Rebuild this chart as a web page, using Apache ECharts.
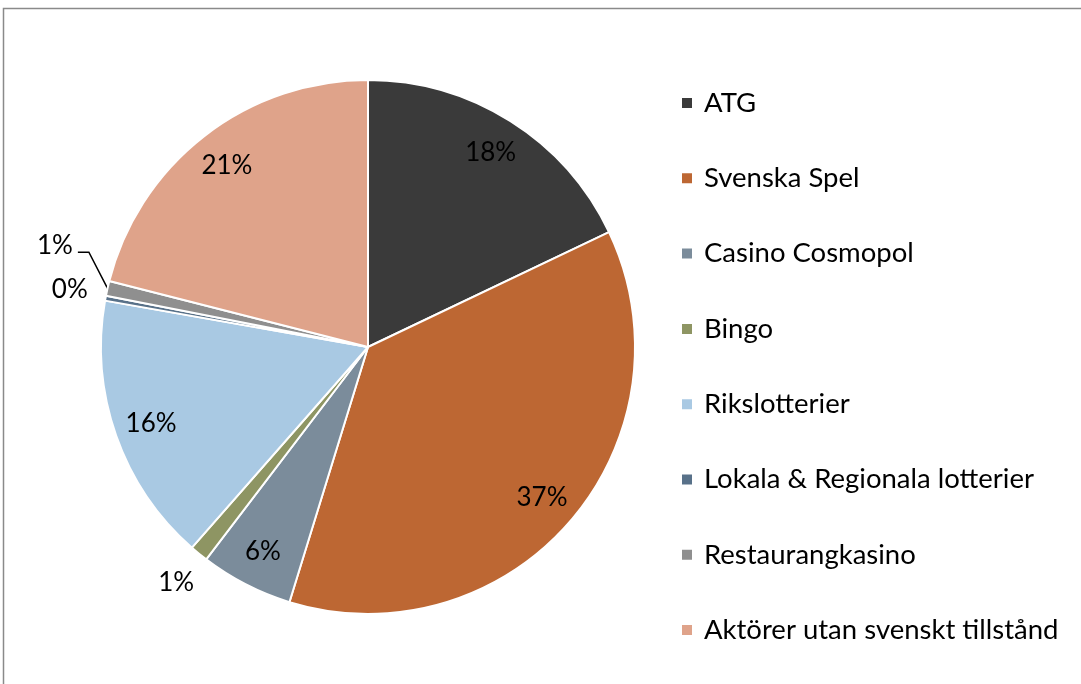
<!DOCTYPE html>
<html>
<head>
<meta charset="utf-8">
<script src="https://cdn.jsdelivr.net/npm/echarts@6/dist/echarts.min.js"></script>
<style>
  html, body { margin: 0; padding: 0; background: #fff; }
  #chart { width: 1081px; height: 684px; }
</style>
</head>
<body>
<div id="chart"></div>
<script>
const categories = [
  'ATG',
  'Svenska Spel',
  'Casino Cosmopol',
  'Bingo',
  'Rikslotterier',
  'Lokala & Regionala lotterier',
  'Restaurangkasino',
  'Aktörer utan svenskt tillstånd',
]
const shares = [17.9, 36.8, 5.6, 1.1, 16.3, 0.3, 0.9, 21.0]
const colors = ['#3a3a3a', '#bd6733', '#7b8c9b', '#8e9563', '#a9c9e3', '#587189', '#8f8f8f', '#dfa38a']

// small slices get their label outside the pie
const outsideLimit = 2
const withLeader = ['Restaurangkasino']
// nudges for the outside labels, like the hand placed ones in the original
const labelNudge = {
  'Bingo': [15, 18],
  'Lokala & Regionala lotterier': [7, -6],
  'Restaurangkasino': [-10, -40],
}

const font = 'Lato, "Open Sans", sans-serif'
const center = [368, 347]
const radius = 267

const pct = (p) => Math.round(p.percent) + '%'

const sliceData = categories.map((name, i) => {
  const small = shares[i] < outsideLimit
  return {
    name,
    value: shares[i],
    itemStyle: { color: colors[i] },
    label: { show: small },
    labelLine: { show: small && withLeader.includes(name) },
  }
})

const labelData = categories.map((name, i) => ({
  name,
  value: shares[i],
  label: { show: shares[i] >= outsideLimit },
}))

function nudgeLabel(p) {
  const name = categories[p.dataIndex]
  const n = labelNudge[name]
  if (!n) return {}
  const out = { dx: n[0], dy: n[1] }
  if (withLeader.includes(name) && p.labelLinePoints) {
    // bend the leader line so it still meets the moved label
    const r = p.labelRect
    const right = r.x + n[0] + r.width
    const yl = r.y + n[1] + r.height - 6
    out.labelLinePoints = [p.labelLinePoints[0], [right + 16, yl], [right + 5, yl]]
  }
  return out
}

const chart = echarts.init(document.getElementById('chart'))
chart.setOption({
  backgroundColor: '#ffffff',
  animation: false,
  graphic: [
    {
      type: 'rect',
      shape: { x: 3.5, y: 8.5, width: 1200, height: 800 },
      style: { fill: 'none', stroke: '#8a8a8a', lineWidth: 1.5 },
      silent: true,
    },
  ],
  legend: {
    orient: 'vertical',
    left: 680,
    top: 89,
    padding: 0,
    icon: 'rect',
    itemWidth: 12,
    itemHeight: 12,
    itemGap: 47.3,
    data: categories,
    textStyle: { fontFamily: font, fontSize: 27.5, color: '#000', lineHeight: 27, padding: [0, 0, 0, 6] },
  },
  series: [
    {
      type: 'pie',
      center,
      radius,
      startAngle: 90,
      clockwise: true,
      avoidLabelOverlap: false,
      itemStyle: { borderColor: '#fff', borderWidth: 2 },
      label: {
        position: 'outside',
        formatter: pct,
        fontFamily: font,
        fontSize: 26,
        color: '#000',
      },
      labelLine: { length: 14, length2: 6, lineStyle: { color: '#000', width: 1.5 } },
      labelLayout: nudgeLabel,
      emphasis: { disabled: true },
      data: sliceData,
    },
    {
      type: 'pie',
      center,
      radius: [radius * 0.7, radius],
      startAngle: 90,
      clockwise: true,
      silent: true,
      itemStyle: { color: 'rgba(0,0,0,0)' },
      label: {
        position: 'inside',
        formatter: pct,
        fontFamily: font,
        fontSize: 26,
        color: '#000',
      },
      labelLine: { show: false },
      emphasis: { disabled: true },
      data: labelData,
    },
  ],
})
</script>
</body>
</html>
